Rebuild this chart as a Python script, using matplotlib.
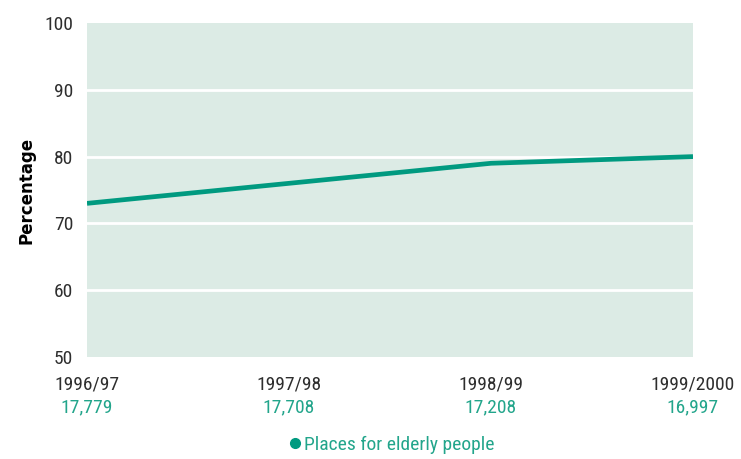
import matplotlib
matplotlib.use("Agg")
import matplotlib.pyplot as plt
from matplotlib.lines import Line2D
from matplotlib import font_manager

years = ["1996/97", "1997/98", "1998/99", "1999/2000"]
places = ["17,779", "17,708", "17,208", "16,997"]
values = [73, 76, 79, 80]
series_name = "Places for elderly people"

available = {f.name for f in font_manager.fontManager.ttflist}
choice = None
for cand in ['Liberation Sans Narrow', 'Roboto Condensed', 'Open Sans Condensed',
             'Noto Sans Condensed', 'Roboto', 'Lato', 'DejaVu Sans']:
    if cand in available:
        choice = cand
        break
narrow = choice in ('Liberation Sans Narrow', 'Roboto Condensed', 'Open Sans Condensed', 'Noto Sans Condensed')
plt.rcParams['font.family'] = [choice, 'DejaVu Sans']
fs = 14 if narrow else 13

teal = "#009a80"
teal_txt = "#22a58b"
bg = "#dcebe5"
txt = "#2e2e2e"

fig = plt.figure(figsize=(7.41, 4.59), dpi=100)
ax = fig.add_axes([87/741, 1-357/459, (693-87)/741, (357-23)/459])
ax.set_facecolor(bg)
x = list(range(len(years)))
ax.plot(x, values, color=teal, lw=3.4, solid_capstyle='butt', zorder=3)
ax.set_xlim(0, 3)
ax.set_ylim(50, 100)
ax.set_yticks([50, 60, 70, 80, 90, 100])
for y in [60, 70, 80, 90]:
    ax.axhline(y, color="white", lw=2, zorder=2)
for s in ax.spines.values():
    s.set_visible(False)
ax.tick_params(axis='y', length=0, labelsize=fs, labelcolor=txt, pad=10)
ax.set_xticks(x)
ax.set_xticklabels([])
ax.tick_params(axis='x', length=0)
ax.set_ylabel("Percentage", fontsize=12, fontweight='bold', color="black", labelpad=6,
              family=['DejaVu Sans'])

trans = ax.get_xaxis_transform()
for i, (yr, pl) in enumerate(zip(years, places)):
    ax.text(i, -0.055, yr, transform=trans, ha='center', va='top', fontsize=fs, color=txt)
    ax.text(i, -0.125, pl, transform=trans, ha='center', va='top', fontsize=fs, color=teal_txt)

handle = Line2D([], [], marker='o', color=teal, lw=0, markersize=7)
fig.legend([handle], [series_name], loc='center', bbox_to_anchor=(390/741, 1-445/459),
           frameon=False, fontsize=fs, labelcolor=teal_txt, handletextpad=0.0,
           handlelength=1.0, borderpad=0)

fig.savefig("out.png", dpi=100)
